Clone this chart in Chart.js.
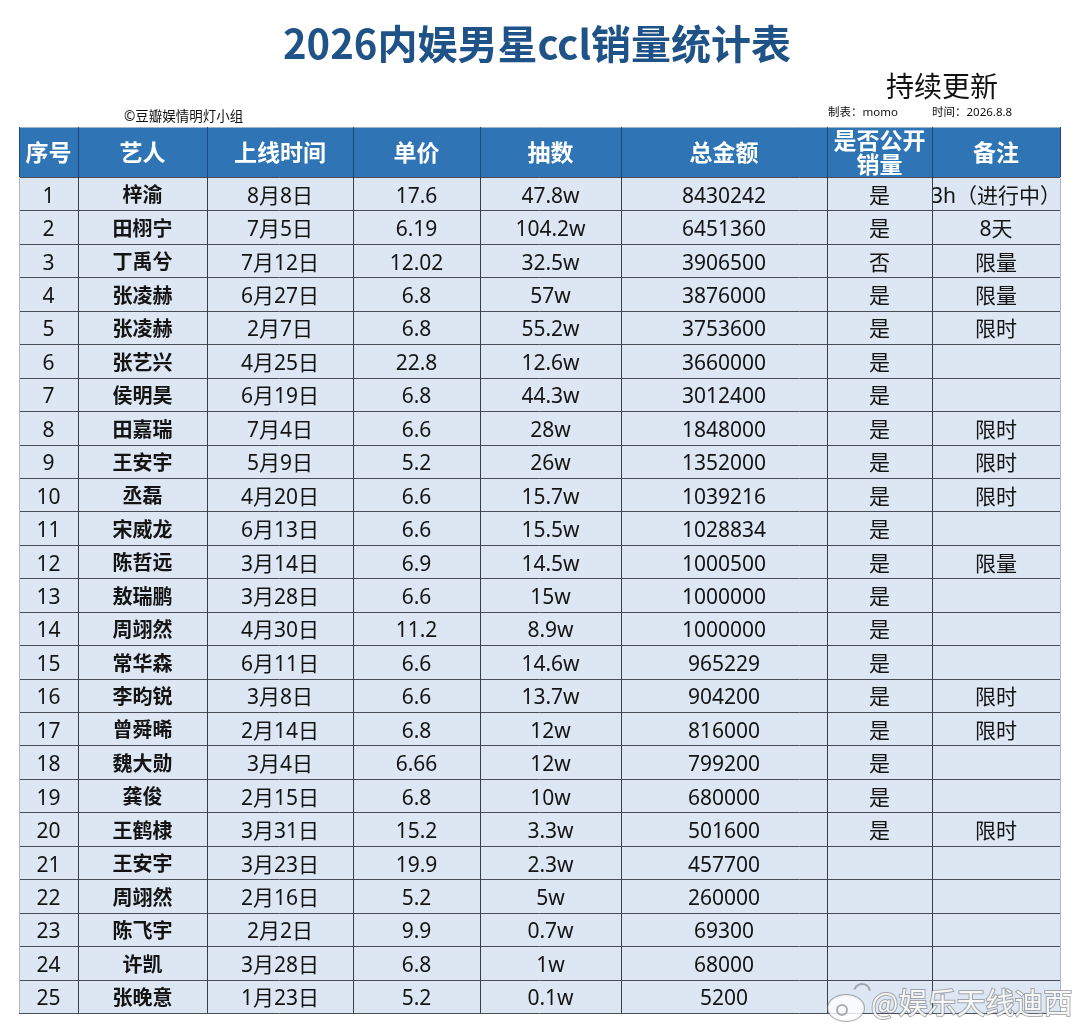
<!DOCTYPE html>
<html><head><meta charset="utf-8">
<script src="https://cdn.jsdelivr.net/npm/chart.js@4.4.1/dist/chart.umd.min.js"></script>
<style>
html,body{margin:0;padding:0;background:#fff;width:1080px;height:1035px;overflow:hidden;}
#wrap{position:relative;width:1080px;height:1035px;}
canvas{position:absolute;left:0;top:0;}
.t{position:absolute;white-space:nowrap;font-family:"Noto Sans","Noto Sans CJK SC",sans-serif;}
</style></head><body>
<div id="wrap">
<canvas id="c" width="1080" height="1035"></canvas>
<div class="t" style="left:0;width:1074px;text-align:center;top:16px;font-size:40px;line-height:52px;font-weight:700;color:#1f5286;font-family:'Noto Sans CJK SC',sans-serif;">2026内娱男星ccl销量统计表</div>
<div class="t" style="left:886px;top:67px;font-size:28px;line-height:38px;color:#111;">持续更新</div>
<div class="t" style="left:828px;top:104px;font-size:11.5px;line-height:16px;color:#111;">制表：momo</div>
<div class="t" style="left:932px;top:104px;font-size:11.5px;line-height:16px;color:#111;">时间：2026.8.8</div>
<div class="t" style="left:124px;top:106px;font-size:13.5px;line-height:20px;color:#111;">©豆瓣娱情明灯小组</div>
</div>
<script>
// ---- data ----
const headers = ["序号","艺人","上线时间","单价","抽数","总金额","是否公开\n销量","备注"];
const rowNo = ["1","2","3","4","5","6","7","8","9","10","11","12","13","14","15","16","17","18","19","20","21","22","23","24","25"];
const artists = ["梓渝","田栩宁","丁禹兮","张凌赫","张凌赫","张艺兴","侯明昊","田嘉瑞","王安宇","丞磊","宋威龙","陈哲远","敖瑞鹏","周翊然","常华森","李昀锐","曾舜晞","魏大勋","龚俊","王鹤棣","王安宇","周翊然","陈飞宇","许凯","张晚意"];
const launchDates = ["8月8日","7月5日","7月12日","6月27日","2月7日","4月25日","6月19日","7月4日","5月9日","4月20日","6月13日","3月14日","3月28日","4月30日","6月11日","3月8日","2月14日","3月4日","2月15日","3月31日","3月23日","2月16日","2月2日","3月28日","1月23日"];
const unitPrices = ["17.6","6.19","12.02","6.8","6.8","22.8","6.8","6.6","5.2","6.6","6.6","6.9","6.6","11.2","6.6","6.6","6.8","6.66","6.8","15.2","19.9","5.2","9.9","6.8","5.2"];
const draws = ["47.8w","104.2w","32.5w","57w","55.2w","12.6w","44.3w","28w","26w","15.7w","15.5w","14.5w","15w","8.9w","14.6w","13.7w","12w","12w","10w","3.3w","2.3w","5w","0.7w","1w","0.1w"];
const totals = ["8430242","6451360","3906500","3876000","3753600","3660000","3012400","1848000","1352000","1039216","1028834","1000500","1000000","1000000","965229","904200","816000","799200","680000","501600","457700","260000","69300","68000","5200"];
const publicSales = ["是","是","否","是","是","是","是","是","是","是","是","是","是","是","是","是","是","是","是","是","","","","",""];
const notes = ["3h（进行中）","8天","限量","限量","限时","","","限时","限时","限时","","限量","","","","限时","限时","","","限时","","","","",""];

// ---- layout (column widths in px units of the x scale) ----
const colWidths = [59,129,146,127,141,206,105,128];
const columns = [rowNo, artists, launchDates, unitPrices, draws, totals, publicSales, notes];
const FONT = '"Noto Sans","Noto Sans CJK SC",sans-serif';
const HEADER_H = 50;

const datasets = columns.map((col, j) => ({
  label: headers[j],
  data: col.map(() => colWidths[j]),
  backgroundColor: '#dce7f3',
  borderWidth: 0,
  barPercentage: 1,
  categoryPercentage: 1,
  stack: 's'
}));

const tablePlugin = {
  id: 'tableCells',
  afterDatasetsDraw(chart) {
    const ctx = chart.ctx, xs = chart.scales.x, area = chart.chartArea;
    const top = area.top - HEADER_H;
    ctx.save();
    // header cells
    let acc = 0;
    const bounds = [xs.getPixelForValue(0)];
    for (let j = 0; j < headers.length; j++) {
      const x0 = xs.getPixelForValue(acc);
      acc += colWidths[j];
      const x1 = xs.getPixelForValue(acc);
      bounds.push(x1);
      ctx.fillStyle = '#2f74b5';
      ctx.fillRect(x0, top, x1 - x0, HEADER_H);
      ctx.fillStyle = '#ffffff';
      ctx.font = '700 23px "Noto Sans CJK SC",sans-serif';
      ctx.textAlign = 'center';
      ctx.textBaseline = 'middle';
      const lines = headers[j].split('\n');
      const lh = 24;
      const cy = top + HEADER_H / 2 - (lines.length - 1) * lh / 2;
      lines.forEach((ln, k) => ctx.fillText(ln, (x0 + x1) / 2, cy + k * lh));
    }
    // body text
    chart.data.datasets.forEach((ds, j) => {
      const meta = chart.getDatasetMeta(j);
      meta.data.forEach((bar, i) => {
        const txt = columns[j][i];
        if (!txt) return;
        const cx = (bar.x + bar.base) / 2;
        ctx.fillStyle = '#141414';
        ctx.font = (j === 1 ? '700 20px ' : '400 21px ') + FONT;
        ctx.textAlign = 'center';
        ctx.textBaseline = 'middle';
        ctx.fillText(txt, cx, bar.y + 3);
      });
    });
    // grid lines
    ctx.lineWidth = 1;
    const yMeta = chart.getDatasetMeta(0).data;
    const hs = [top, area.top];
    yMeta.forEach(bar => hs.push(bar.y + bar.height / 2));
    hs.forEach((y, k) => {
      const yy = Math.round(y) + 0.5;
      ctx.strokeStyle = k === 0 ? '#9fb4cc' : '#4a4f57';
      ctx.beginPath(); ctx.moveTo(bounds[0], yy); ctx.lineTo(bounds[bounds.length - 1], yy); ctx.stroke();
    });
    bounds.forEach((x, k) => {
      const xx = Math.round(x) + 0.5;
      ctx.strokeStyle = (k === 0 || k === bounds.length - 1) ? '#aab9cc' : '#3b4048';
      ctx.beginPath(); ctx.moveTo(xx, top); ctx.lineTo(xx, area.bottom); ctx.stroke();
      ctx.strokeStyle = '#1f4a78';
      ctx.beginPath(); ctx.moveTo(xx, top); ctx.lineTo(xx, area.top); ctx.stroke();
    });
    // watermark
    ctx.font = '400 29px "Noto Sans CJK SC",sans-serif';
    ctx.textAlign = 'left';
    ctx.textBaseline = 'middle';
    ctx.lineWidth = 2;
    ctx.strokeStyle = 'rgba(110,110,110,0.55)';
    ctx.fillStyle = 'rgba(255,255,255,0.9)';
    ctx.strokeText('@娱乐天线迪西', 871, 1003);
    ctx.fillText('@娱乐天线迪西', 871, 1003);
    ctx.beginPath();
    ctx.ellipse(846, 1008, 18, 13, 0, 0, Math.PI * 2);
    ctx.stroke();
    ctx.fillStyle = 'rgba(255,255,255,0.8)';
    ctx.fill();
    ctx.beginPath();
    ctx.arc(842, 1010, 5, 0, Math.PI * 2);
    ctx.stroke();
    ctx.beginPath();
    ctx.arc(862, 992, 8, -Math.PI * 0.9, -Math.PI * 0.05);
    ctx.stroke();
    ctx.restore();
  }
};

new Chart(document.getElementById('c'), {
  type: 'bar',
  data: { labels: rowNo, datasets },
  options: {
    indexAxis: 'y',
    responsive: false,
    animation: false,
    events: [],
    layout: { padding: { top: 177, left: 19, right: 20, bottom: 22 } },
    scales: {
      x: { type: 'linear', stacked: true, min: 0, max: colWidths.reduce((a, b) => a + b, 0), display: false },
      y: { type: 'category', stacked: true, display: false, offset: true }
    },
    plugins: { legend: { display: false }, tooltip: { enabled: false }, title: { display: false } }
  },
  plugins: [tablePlugin]
});
</script>
</body></html>
